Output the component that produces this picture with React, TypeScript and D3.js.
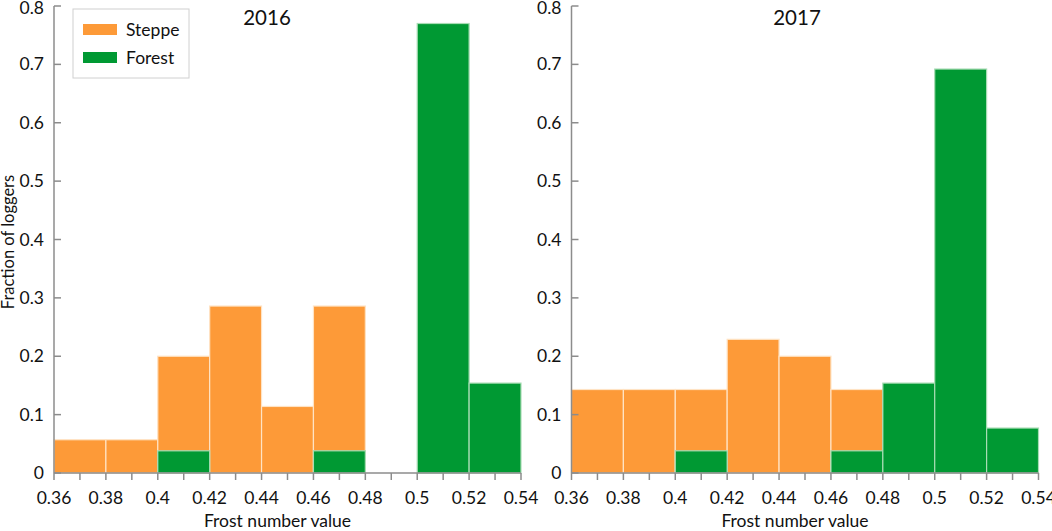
import { useEffect, useRef } from "react";
import * as d3 from "d3";

// bin edges (frost number), 0.02 wide
const binStarts = [0.36, 0.38, 0.4, 0.42, 0.44, 0.46, 0.48, 0.5, 0.52];

// fraction of loggers per bin
const steppe2016 = [0.057, 0.057, 0.2, 0.286, 0.114, 0.286, 0, 0, 0];
const forest2016 = [0, 0, 0.038, 0, 0, 0.038, 0, 0.77, 0.154];
const steppe2017 = [0.143, 0.143, 0.143, 0.229, 0.2, 0.143, 0, 0, 0];
const forest2017 = [0, 0, 0.038, 0, 0, 0.038, 0.154, 0.692, 0.077];

const xTicks = [0.36, 0.38, 0.4, 0.42, 0.44, 0.46, 0.48, 0.5, 0.52, 0.54];
const yTicks = [0, 0.1, 0.2, 0.3, 0.4, 0.5, 0.6, 0.7, 0.8];

const ORANGE = "#fd9a38";
const GREEN = "#009933";
const AXIS = "#8c8c8c";
const FONT = "Lato, 'Open Sans', sans-serif";

const panels = [
  { title: "2016", steppe: steppe2016, forest: forest2016, left: 54, titleX: 267 },
  { title: "2017", steppe: steppe2017, forest: forest2017, left: 571.5, titleX: 797 },
];

export default function App() {
  const ref = useRef<SVGSVGElement | null>(null);

  useEffect(() => {
    if (!ref.current) return;
    const svg = d3.select(ref.current);
    svg.selectAll("*").remove();

    const top = 6;
    const bottom = 473;
    const plotW = 467;

    const y = d3.scaleLinear().domain([0, 0.8]).range([bottom, top]);

    panels.forEach((p) => {
      const x = d3.scaleLinear().domain([0.36, 0.54]).range([p.left, p.left + plotW]);
      const g = svg.append("g");

      const drawBars = (vals: number[], color: string, edge: string) => {
        g.selectAll(null)
          .data(binStarts.map((b, i) => ({ b, v: vals[i] })).filter((d) => d.v > 0))
          .enter()
          .append("rect")
          .attr("x", (d) => x(d.b))
          .attr("width", (d) => x(d.b + 0.02) - x(d.b))
          .attr("y", (d) => y(d.v))
          .attr("height", (d) => y(0) - y(d.v))
          .attr("fill", color)
          .attr("stroke", edge)
          .attr("stroke-width", 1.2);
      };
      drawBars(p.steppe, ORANGE, "#ffe3c4");
      drawBars(p.forest, GREEN, "#a8dcb4");

      // x axis
      g.append("line")
        .attr("x1", x(0.36)).attr("x2", x(0.54))
        .attr("y1", bottom).attr("y2", bottom)
        .attr("stroke", AXIS).attr("stroke-width", 1.5);
      const minor = d3.range(0, 19).map((i) => 0.36 + i * 0.01);
      g.selectAll(null)
        .data(minor)
        .enter()
        .append("line")
        .attr("x1", (d) => x(d)).attr("x2", (d) => x(d))
        .attr("y1", bottom).attr("y2", bottom + 7)
        .attr("stroke", AXIS).attr("stroke-width", 1.5);
      g.selectAll(null)
        .data(xTicks)
        .enter()
        .append("text")
        .attr("x", (d) => x(d))
        .attr("y", 504)
        .attr("text-anchor", "middle")
        .attr("font-family", FONT)
        .attr("font-size", 17.5)
        .attr("fill", "#111")
        .text((d) => d3.format("~g")(d));

      // y axis
      g.append("line")
        .attr("x1", p.left).attr("x2", p.left)
        .attr("y1", top).attr("y2", bottom)
        .attr("stroke", AXIS).attr("stroke-width", 1.5);
      g.selectAll(null)
        .data(yTicks)
        .enter()
        .append("text")
        .attr("x", p.left - 10)
        .attr("y", (d) => Math.max(y(d) + 6, 14))
        .attr("text-anchor", "end")
        .attr("font-family", FONT)
        .attr("font-size", 17.5)
        .attr("fill", "#111")
        .text((d) => d3.format("~g")(d));
      g.selectAll(null)
        .data(yTicks)
        .enter()
        .append("line")
        .attr("x1", p.left).attr("x2", p.left + 7)
        .attr("y1", (d) => y(d)).attr("y2", (d) => y(d))
        .attr("stroke", AXIS).attr("stroke-width", 1.5);

      g.append("text")
        .attr("x", p.titleX)
        .attr("y", 25)
        .attr("text-anchor", "middle")
        .attr("font-family", FONT)
        .attr("font-size", 20.5)
        .attr("fill", "#111")
        .text(p.title);

      g.append("text")
        .attr("x", p.left + plotW / 2 - 10)
        .attr("y", 527)
        .attr("text-anchor", "middle")
        .attr("font-family", FONT)
        .attr("font-size", 17.5)
        .attr("fill", "#111")
        .text("Frost number value");
    });

    svg.append("text")
      .attr("transform", "translate(14,242) rotate(-90)")
      .attr("text-anchor", "middle")
      .attr("font-family", FONT)
      .attr("font-size", 16.5)
      .attr("fill", "#111")
      .text("Fraction of loggers");

    // legend
    const lg = svg.append("g");
    lg.append("rect")
      .attr("x", 73).attr("y", 9).attr("width", 116).attr("height", 69)
      .attr("fill", "white").attr("stroke", "#d0d0d0").attr("stroke-width", 1);
    [
      { label: "Steppe", color: ORANGE },
      { label: "Forest", color: GREEN },
    ].forEach((item, i) => {
      lg.append("rect")
        .attr("x", 83).attr("y", 24 + i * 28).attr("width", 34).attr("height", 11)
        .attr("fill", item.color);
      lg.append("text")
        .attr("x", 126).attr("y", 36 + i * 28)
        .attr("font-family", FONT)
        .attr("font-size", 17.5)
        .attr("fill", "#111")
        .text(item.label);
    });
  }, []);

  return (
    <svg
      ref={ref}
      width={1052}
      height={531}
      style={{ position: "absolute", left: 0, top: 0, background: "white" }}
    />
  );
}
